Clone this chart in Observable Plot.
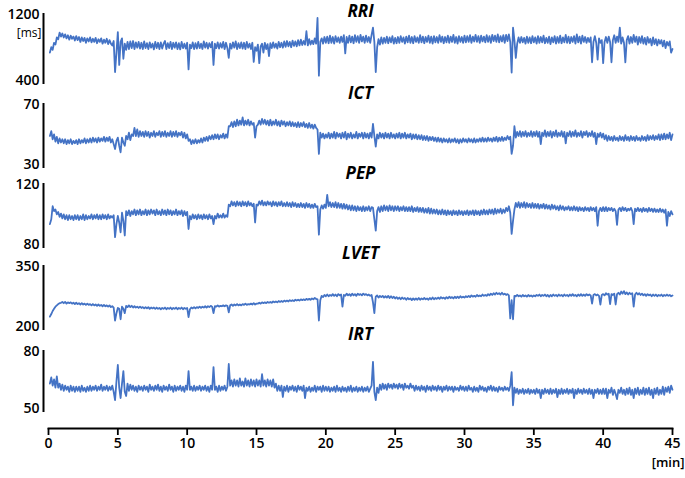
<!DOCTYPE html>
<html><head><meta charset="utf-8">
<script src="https://cdn.jsdelivr.net/npm/d3@7"></script>
<script src="https://cdn.jsdelivr.net/npm/@observablehq/plot@0.6"></script>
<style>
body{margin:0;background:#fff;}
#chart{position:relative;width:685px;height:478px;font-family:"Open Sans",sans-serif;overflow:hidden;}
#chart svg{position:absolute;left:0;}
#xaxis path, #xaxis line{stroke-width:1.8px;}
</style></head><body><div id="chart"></div><script>
// sampling of the recordings (minutes)
const startMinute = 0.1;
const sampleMinutes = 0.1;

const rri = [
760, 820, 790, 870, 850, 930, 910, 985, 940, 975, 930, 965, 920, 955, 905, 950, 915, 940, 895, 945,
900, 935, 880, 930, 890, 925, 870, 920, 885, 930, 875, 915, 880, 925, 865, 910, 880, 920, 860, 905,
870, 915, 855, 900, 860, 840, 890, 540, 760, 990,
620, 880, 920, 690, 860, 790, 880, 800, 885, 810, 890, 800, 875, 815, 880, 805, 870, 800, 885, 810,
865, 800, 875, 815, 860, 795, 880, 810, 870, 800, 875, 805, 860, 890, 800, 865, 810, 880, 800, 870,
815, 875, 800, 865, 795, 880, 810, 860, 805, 870,
570, 850, 810, 875, 800, 865, 805, 880, 810, 860, 800, 885, 815, 870, 805, 865, 820, 880, 620, 860,
810, 875, 805, 865, 815, 880, 800, 870, 810, 700, 860, 805, 875, 815, 885, 800, 865, 810, 875, 805,
870, 800, 880, 815, 860, 800, 870, 655, 820, 780,
850, 640, 830, 860, 760, 870, 800, 855, 720, 865, 810, 875, 815, 860, 805, 880, 820, 870, 815, 885,
825, 890, 830, 880, 820, 895, 835, 885, 830, 900, 840, 905, 845, 890, 850, 1000, 840, 910, 850, 895,
855, 920, 860, 1150, 500, 880, 920, 860, 935, 870,
940, 865, 950, 870, 935, 860, 945, 880, 930, 870, 940, 880, 955, 750, 935, 870, 950, 875, 940, 865,
955, 880, 945, 870, 960, 885, 940, 870, 950, 880, 935, 870, 960, 1040, 880, 540, 820, 910, 850, 930,
860, 925, 870, 940, 865, 930, 875, 945, 860, 925,
865, 935, 870, 945, 880, 930, 860, 940, 875, 950, 870, 935, 865, 945, 880, 930, 870, 955, 875, 940,
865, 935, 880, 950, 870, 940, 860, 945, 875, 935, 870, 955, 880, 940, 865, 935, 875, 950, 870, 940,
880, 960, 870, 935, 860, 945, 880, 935, 870, 950,
875, 945, 880, 955, 870, 940, 885, 960, 880, 945, 870, 950, 885, 940, 875, 955, 880, 945, 870, 960,
890, 950, 880, 965, 875, 945, 885, 955, 870, 960, 890, 965, 880, 535, 1040, 900, 700, 860, 930, 870,
935, 875, 925, 860, 940, 870, 930, 865, 945, 875,
930, 860, 945, 870, 935, 875, 950, 865, 925, 870, 940, 855, 930, 875, 945, 860, 935, 870, 950, 865,
930, 875, 960, 870, 940, 865, 935, 880, 945, 860, 965, 875, 940, 860, 950, 880, 935, 870, 925, 880,
930, 650, 880, 945, 870, 680, 920, 870, 900, 640,
880, 935, 870, 940, 880, 650, 900, 955, 870, 940, 880, 1040, 860, 930, 870, 650, 900, 945, 860, 935,
870, 960, 880, 940, 850, 935, 870, 945, 860, 925, 850, 935, 870, 915, 840, 930, 855, 910, 840, 905,
860, 900, 830, 895, 810, 880, 840, 885, 760, 800
];
const ict = [
50, 53, 48, 51, 46.5, 49.5, 45.5, 48.5, 46, 48, 45.5, 48, 45, 47.5, 45.5, 48, 45, 47, 45.5, 47.5,
45, 48, 45.5, 47.5, 46, 48.5, 45.5, 48, 46, 48.5, 46, 49, 46.5, 48.5, 46, 49, 46.5, 48.5, 47, 49.5,
46.5, 49, 47, 49.5, 46, 48, 45, 42, 47, 49,
44, 40, 49, 46, 44, 50, 48, 52, 47.5, 51, 50, 55, 50, 54, 49.5, 53, 50, 52.5, 49.5, 53,
50, 52.5, 49, 52, 50, 53, 49.5, 52, 50.5, 53, 49.5, 52.5, 50, 53, 49.5, 52, 50, 53, 49.5, 52.5,
50, 53, 49.5, 52, 50.5, 52.5, 49, 52, 48.5, 51,
47, 48, 45, 47.5, 45.5, 48, 45.5, 47.5, 46, 48.5, 46, 49, 47, 49.5, 47, 50, 48, 50.5, 48, 51,
48.5, 51, 48, 50.5, 49, 51.5, 48.5, 51, 49, 56, 56, 58.5, 55.5, 59, 56, 60, 56.5, 59.5, 57, 61.5,
56.5, 59.5, 57, 60, 56.5, 59, 57, 58, 49, 56,
57, 59.5, 57, 60.5, 57.5, 60, 57, 59.5, 56.5, 60, 56.5, 59, 57, 60, 56.5, 59, 56, 59.5, 57, 59,
56, 58.5, 56.5, 59, 56, 58.5, 56, 58, 55.5, 58.5, 55.5, 58, 56, 58.5, 55.5, 57.5, 55, 58, 55, 57,
54.5, 57, 55, 54, 39, 52, 49, 51.5, 48.5, 51,
49, 52, 48.5, 51.5, 49, 52.5, 48.5, 52, 49.5, 51.5, 48.5, 52, 49, 52.5, 48, 51.5, 49, 52, 48.5, 51,
49, 52.5, 48.5, 51.5, 49.5, 52, 48.5, 52, 49, 51.5, 48.5, 52, 49, 57.5, 50, 43.5, 51, 48.5, 52, 49,
51.5, 48.5, 52, 49, 51.5, 48.5, 52, 49, 51, 48.5,
51.5, 49, 52, 48.5, 51.5, 49, 52, 48.5, 51, 49, 51.5, 48, 51, 48.5, 51, 48, 50.5, 48, 50.5, 47.5,
50, 47.5, 50, 47, 49.5, 47.5, 49.5, 47, 49, 46.5, 49, 46.5, 48.5, 46, 48.5, 46.5, 48, 46, 48.5, 46,
48, 46.5, 48.5, 46, 48, 45.5, 48, 46, 48.5, 46.5,
48, 46, 48.5, 46.5, 48, 46, 48.5, 46, 48, 46.5, 48.5, 46.5, 49, 46.5, 48.5, 46.5, 49, 47, 48.5, 46.5,
49, 47, 49.5, 46.5, 49, 47, 49.5, 47, 49, 47.5, 50, 48, 49.5, 39, 44, 56, 49, 52.5, 50, 53,
49.5, 52.5, 50, 53, 49.5, 52, 50, 53, 49.5, 52.5,
50, 53, 49.5, 52.5, 45, 52, 50, 53.5, 49.5, 52.5, 50, 53, 49, 52.5, 50, 53.5, 49.5, 52, 50, 53,
49.5, 52.5, 45.5, 52, 50, 53, 49.5, 52.5, 50, 53.5, 49.5, 52, 50, 53, 49, 52.5, 50.5, 53, 49.5, 52,
50, 53, 49.5, 52, 45, 51.5, 49.5, 52, 49, 51.5,
48, 50.5, 47, 50, 47.5, 49.5, 47, 50, 47.5, 49, 47, 50, 47.5, 49.5, 47, 50.5, 47.5, 49.5, 47, 50,
47.5, 49.5, 47, 50, 47.5, 49, 47, 50, 47.5, 49.5, 47, 50.5, 47.5, 50, 48, 50.5, 47.5, 50, 48, 51,
47.5, 51, 48, 51.5, 48, 51, 48.5, 52, 47.5, 51
];
const pep = [
95, 98, 106, 103, 104, 101, 102.5, 99.5, 101.5, 98.5, 101, 98, 100.5, 97.5, 100.5, 98, 100, 97.5, 100.5, 98,
100.5, 97.5, 100, 98, 101, 97.5, 100.5, 98, 100, 98.5, 101, 98, 100.5, 98.5, 101, 98, 100.5, 98, 101, 98.5,
100.5, 98, 101, 98.5, 100, 99, 100.5, 87, 95, 100,
96, 90, 102, 97, 88, 103, 100.5, 103.5, 100, 103, 101, 104, 100.5, 103.5, 101, 104, 100.5, 103, 101, 104,
100.5, 103.5, 101, 104, 101.5, 103.5, 100.5, 104, 101, 103, 100.5, 104, 101, 103.5, 100.5, 104, 101, 103.5, 100.5, 103,
101, 104, 100.5, 103, 101, 103.5, 100, 103, 100.5, 102.5,
92, 100, 98, 101, 98.5, 100.5, 98, 101, 98.5, 100.5, 98, 101, 98.5, 100.5, 98, 101, 98.5, 100, 95, 100,
98.5, 101.5, 99, 100.5, 99, 101.5, 99, 100.5, 99.5, 107, 106, 109, 106.5, 108.5, 106, 109, 106.5, 108.5, 106, 109,
106.5, 108.5, 106, 109, 106.5, 108, 106, 107.5, 96, 107,
106.5, 109, 107, 109.5, 106.5, 108.5, 106.5, 109, 107, 108.5, 106, 109, 106.5, 108.5, 106, 108.5, 106.5, 109, 106, 108,
106, 108.5, 106, 108, 105.5, 108.5, 106, 108, 105.5, 107.5, 105.5, 108, 105.5, 107.5, 105, 108, 105.5, 107.5, 105, 107,
105, 107.5, 105.5, 106, 88.5, 104, 106.5, 104.5, 107, 105,
113, 106, 108.5, 105.5, 108, 105.5, 108.5, 105, 108, 105, 107.5, 104.5, 107.5, 104.5, 107, 104, 106.5, 103.5, 106.5, 103.5,
106, 103, 106, 103.5, 105.5, 103, 106, 103, 105.5, 103.5, 106, 103, 105.5, 105, 98, 91, 103, 105.5, 102.5, 106,
103, 106.5, 103.5, 106, 103, 106.5, 103.5, 106, 103, 106,
103.5, 106, 103, 105.5, 103.5, 106, 103, 105.5, 103, 105.5, 103, 106, 102.5, 105, 103, 105.5, 102.5, 105, 102.5, 105,
102, 104.5, 102, 105, 101.5, 104.5, 101.5, 104, 101.5, 104, 101, 103.5, 101, 104, 101, 103.5, 100.5, 103.5, 101, 103,
100.5, 103.5, 101, 103, 100.5, 103.5, 101, 103, 100.5, 103,
101, 103.5, 100.5, 103, 101, 103.5, 100.5, 103.5, 101, 103, 100.5, 103.5, 101, 104, 101, 103.5, 101, 104, 101.5, 104,
101, 104.5, 101.5, 104, 102, 104.5, 101.5, 104, 102, 105, 103, 106, 102, 89, 97, 104, 108, 105.5, 108.5, 105,
108, 105.5, 108.5, 105, 108, 105.5, 107.5, 105, 108, 105,
107.5, 105, 107.5, 104.5, 107, 105, 107.5, 104.5, 107, 104.5, 106.5, 104, 107, 104.5, 106.5, 104, 106, 103.5, 106.5, 104,
106, 103.5, 105.5, 104, 106, 103.5, 105.5, 103.5, 106, 103.5, 105.5, 103, 105.5, 103.5, 105, 103, 105.5, 103.5, 105, 103,
105.5, 103.5, 105, 103, 105.5, 94, 103, 105, 103, 105.5,
103, 105.5, 103, 105, 103.5, 105, 103, 104.5, 103, 94.5, 104, 105, 103, 105.5, 103.5, 105, 103, 104.5, 103.5, 105,
103, 95, 104.5, 103, 105, 103, 104.5, 102.5, 105, 103, 104.5, 102.5, 105, 103, 104.5, 102.5, 104.5, 102.5, 104, 102.5,
104.5, 102.5, 104, 102, 104, 94, 102.5, 100, 103, 101
];
const lvet = [
232, 238, 245, 250, 255, 258, 261, 263, 264, 266, 263, 266, 262, 265, 263, 265, 262, 264, 261, 264,
261, 263, 260, 263, 260, 262, 259, 262, 259, 261, 258, 261, 258, 260, 257, 260, 257, 259, 256, 259,
256, 258, 255, 258, 254, 256, 253, 223, 240, 252,
250, 226, 255, 250, 240, 257, 254, 258, 254, 257, 253, 256, 253, 255, 252, 255, 252, 254, 251, 254,
251, 254, 250, 253, 251, 253, 250, 253, 250, 252, 249, 252, 250, 253, 249, 252, 250, 253, 249, 252,
250, 253, 249, 252, 250, 253, 249, 252, 250, 252,
231, 249, 253, 251, 254, 251, 254, 252, 255, 252, 255, 253, 256, 253, 256, 254, 257, 255, 240, 256,
255, 258, 255, 257, 256, 258, 256, 258, 257, 242, 258, 260, 257, 260, 258, 261, 258, 260, 258, 261,
259, 262, 259, 261, 260, 262, 260, 263, 260, 262,
262, 264, 262, 265, 263, 265, 263, 266, 264, 266, 264, 267, 265, 267, 265, 268, 266, 268, 266, 269,
267, 269, 267, 270, 268, 270, 268, 271, 269, 271, 269, 272, 270, 272, 270, 273, 271, 273, 271, 274,
272, 275, 273, 272, 223, 270, 280, 277, 282, 279,
283, 279, 282, 280, 284, 280, 283, 279, 284, 281, 283, 255, 282, 280, 285, 281, 284, 280, 285, 281,
284, 280, 285, 282, 284, 281, 285, 282, 284, 281, 283, 280, 282, 265, 240, 278, 281, 276, 280, 277,
280, 276, 279, 276, 280, 275, 279, 275, 278, 274,
277, 273, 276, 272, 276, 273, 275, 271, 275, 272, 274, 270, 274, 271, 274, 271, 275, 271, 274, 272,
275, 272, 274, 271, 275, 272, 276, 272, 275, 273, 276, 273, 277, 274, 276, 273, 277, 274, 278, 275,
277, 274, 278, 275, 278, 275, 279, 276, 278, 276,
279, 277, 280, 277, 281, 278, 280, 278, 282, 279, 281, 279, 283, 280, 282, 280, 284, 281, 285, 282,
286, 283, 287, 284, 286, 283, 287, 283, 285, 282, 284, 281, 228, 270, 226, 280, 279, 282, 279, 281,
278, 282, 279, 281, 278, 282, 279, 281, 278, 281,
279, 282, 280, 283, 279, 282, 280, 283, 279, 282, 278, 282, 279, 283, 280, 282, 279, 283, 280, 282,
279, 283, 280, 282, 279, 283, 280, 284, 280, 282, 279, 283, 280, 284, 280, 283, 280, 284, 281, 283,
281, 262, 282, 284, 281, 283, 280, 260, 282, 284,
281, 286, 283, 285, 261, 284, 282, 285, 260, 284, 287, 283, 290, 285, 291, 284, 288, 283, 287, 284,
286, 255, 283, 287, 283, 286, 282, 285, 281, 284, 280, 284, 281, 283, 279, 283, 280, 283, 279, 282,
280, 283, 279, 282, 280, 283, 280, 282, 279, 281
];
const irt = [
64, 67, 63, 66, 62, 67.5, 62, 64, 61, 63.5, 60.5, 63, 61, 62.5, 60, 63, 60.5, 62.5, 60, 62.5,
60.5, 62.5, 60, 63, 60.5, 62, 60, 62.5, 60.5, 63, 60.5, 62.5, 61, 63, 60.5, 62.5, 61, 63.5, 60.5, 62.5,
61, 63, 60.5, 62.5, 61, 63, 60, 56, 65, 73,
62, 57, 64, 70, 60, 58, 64, 60.5, 63.5, 61, 63, 60.5, 62.5, 60, 63, 61, 62.5, 60.5, 63, 61,
62.5, 60, 63.5, 61, 62.5, 60.5, 63, 61, 63.5, 60.5, 62.5, 60, 63, 61, 62.5, 60.5, 63.5, 61, 62.5, 60,
63, 60.5, 62.5, 61, 63, 60.5, 62.5, 60, 63, 61,
70, 61, 62.5, 60.5, 63, 60.5, 62.5, 61, 63, 60.5, 62.5, 61, 63, 60.5, 62.5, 60, 63, 61, 72, 61,
62.5, 60, 63, 60.5, 62.5, 61, 63, 60.5, 62.5, 73.5, 63, 65.5, 62.5, 66, 63, 65.5, 62.5, 66.5, 63, 65,
62.5, 66.5, 63, 65.5, 62.5, 66, 63, 65.5, 62.5, 66,
63, 65.5, 62.5, 68.5, 63, 65.5, 62.5, 66, 63, 65.5, 62.5, 66, 62, 64, 60.5, 63, 60.5, 63, 57.5, 62.5,
60.5, 63, 60, 62.5, 61, 63, 60.5, 62.5, 60, 63, 61, 62.5, 60.5, 63, 57, 62, 60.5, 62.5, 60, 62,
60.5, 63, 60, 62.5, 61, 62.5, 60, 63, 60.5, 62.5,
60.5, 62.5, 60, 62, 60.5, 62.5, 60, 63, 60.5, 62, 60, 62.5, 60.5, 62, 60, 62.5, 60.5, 63, 60, 62,
60.5, 62.5, 60, 62, 60.5, 62.5, 60, 62, 60.5, 62.5, 60, 61.5, 63, 74.5, 60, 56, 62, 59.5, 63.5, 61,
64, 61.5, 63.5, 61, 64, 62, 63.5, 61.5, 64, 62,
63.5, 61.5, 64, 62, 63.5, 61, 64, 62, 63, 61.5, 64, 62, 63, 60.5, 63, 61, 62.5, 60.5, 63, 61,
62.5, 60, 63, 61, 62.5, 60.5, 63, 61, 62.5, 60.5, 63, 61, 62.5, 60, 62.5, 61, 63, 60.5, 62.5, 61,
62.5, 60, 62.5, 61, 62, 60.5, 63, 61, 62.5, 60.5,
62.5, 60.5, 63, 61, 62, 60, 62.5, 60.5, 62, 60, 63, 61, 62.5, 60.5, 62, 60, 62.5, 61, 63, 60.5,
62.5, 60.5, 62, 60, 62.5, 61, 62, 60.5, 62.5, 61, 62, 60.5, 63, 69.5, 53.5, 62, 59.5, 61.5, 59, 61,
59.5, 61.5, 59, 61, 59.5, 61.5, 59, 61, 59.5, 61,
59, 61.5, 59.5, 61, 57, 61, 59, 61.5, 59.5, 61, 59, 61.5, 59, 61, 59.5, 61.5, 57.5, 61, 59, 61.5,
59, 61, 59.5, 61.5, 59, 61, 59.5, 61.5, 57, 61, 59, 61.5, 59.5, 61, 59, 61.5, 59.5, 61, 59, 61.5,
59, 61, 57, 61, 59.5, 61.5, 59, 61, 59, 61.5,
59, 61.5, 57, 61, 59.5, 62, 58.5, 61, 59, 56.5, 61, 59.5, 62, 59, 61, 58.5, 61.5, 59, 62, 58.5,
61, 57, 61.5, 59, 62, 58.5, 61, 59, 62, 58.5, 61.5, 59, 62, 58.5, 61, 57, 61.5, 59, 62, 58.5,
61, 59, 62.5, 58.5, 62, 60, 62.5, 59.5, 63, 61
];

const seriesNames = ["RRI", "ICT", "PEP", "LVET", "IRT"];
const seriesValues = [rri, ict, pep, lvet, irt];
const yTickLabels = [[400, 1200], [30, 70], [80, 120], [200, 350], [50, 80]];
const yUnit = "[ms]";
const xTicks = [0, 5, 10, 15, 20, 25, 30, 35, 40, 45];
const xUnit = "[min]";

// layout (pixels)
const W = 685, ML = 48, MR = 13;
const panelTop = [13, 103, 183, 265, 350];
const panelBottom = [84, 168, 248, 330, 412];
const titleY = [11, 93, 173, 253, 334];
const blue = "#4473c5";
const chart = document.getElementById("chart");
const MT = 22, MB = 10;

seriesNames.forEach((name, k) => {
  const vals = seriesValues[k];
  const [lo, hi] = yTickLabels[k];
  const h = panelBottom[k] - panelTop[k];
  const marks = [
    Plot.ruleX([0], {dx: -5, stroke: "black", strokeWidth: 2}),
    Plot.lineY(vals, {x: (d, i) => startMinute + i * sampleMinutes, y: d => d, stroke: blue, strokeWidth: 1.8}),
    Plot.text([hi], {y: d => d, text: d => String(d), frameAnchor: "left", dx: -9, dy: 1, textAnchor: "end", fontSize: 14, fontWeight: 600, fill: "black"}),
    Plot.text([lo], {y: d => d, text: d => String(d), frameAnchor: "left", dx: -9, dy: -4, textAnchor: "end", fontSize: 14, fontWeight: 600, fill: "black"}),
    Plot.text([name], {frameAnchor: "top", dy: titleY[k] - panelTop[k], lineAnchor: "middle", fontSize: 17, fontWeight: "bold", fontStyle: "italic", fill: "black"})
  ];
  if (k === 0) marks.push(Plot.text([yUnit], {frameAnchor: "top-left", dx: -7, dy: 20, lineAnchor: "middle", textAnchor: "end", fontSize: 12, fill: "black"}));
  const svg = Plot.plot({
    width: W, height: h + MT + MB,
    marginLeft: ML, marginRight: MR, marginTop: MT, marginBottom: MB,
    x: {domain: [0, 45], axis: null},
    y: {domain: [lo, hi], axis: null},
    style: {background: "transparent", overflow: "visible", fontFamily: "'Open Sans', sans-serif"},
    marks
  });
  svg.style.top = (panelTop[k] - MT) + "px";
  chart.appendChild(svg);
});

// bottom time axis
const axisY = 428;
const axH = 78, axMT = 10, axMB = 50;
const axSvg = Plot.plot({
  width: W, height: axH,
  marginLeft: ML, marginRight: MR, marginTop: axMT, marginBottom: axMB,
  x: {domain: [0, 45], ticks: xTicks, tickSize: 7, tickPadding: 3, line: true, label: null},
  style: {background: "transparent", overflow: "visible", fontSize: "14px", fontWeight: 600, fontFamily: "'Open Sans', sans-serif", color: "black"},
  marks: [
    Plot.text([xUnit], {frameAnchor: "bottom-right", dx: 12, dy: 38, textAnchor: "end", fontSize: 13, fontWeight: 600, fill: "black"})
  ]
});
axSvg.id = "xaxis";
axSvg.style.top = (axisY - (axH - axMB)) + "px";
chart.appendChild(axSvg);
</script></body></html>
